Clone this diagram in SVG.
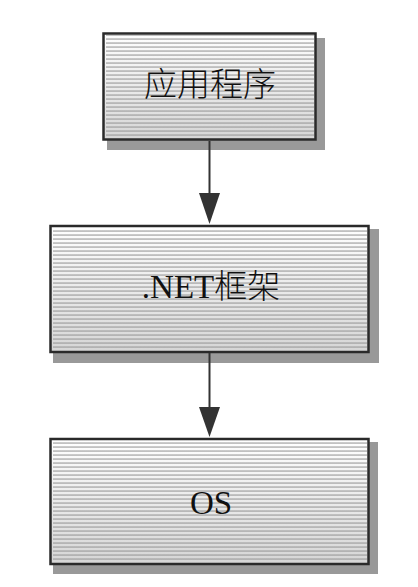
<svg xmlns="http://www.w3.org/2000/svg" width="418" height="587" viewBox="0 0 418 587">
<defs>
<linearGradient id="bg" x1="0" y1="0" x2="0" y2="1">
<stop offset="0" stop-color="#ffffff"/>
<stop offset="1" stop-color="#d6d6d6"/>
</linearGradient>
<pattern id="lines" patternUnits="userSpaceOnUse" width="8" height="4">
<rect x="0" y="2.5" width="8" height="1.1" fill="#9a9a9a"/>
</pattern>
</defs>
<style>
.shadow{fill:#999999}
.bg{fill:url(#bg)}
.ln{fill:url(#lines)}
.frame{fill:none;stroke:#2a2a2a;stroke-width:2.5}
.lbl{font-family:"Liberation Serif","Noto Sans CJK SC",serif;font-size:33px;font-weight:300;fill:#111;text-anchor:middle}
.conn{stroke:#333;stroke-width:2;fill:none}
.head{fill:#333}
</style>
<rect width="418" height="587" fill="#ffffff"/>
<g id="node-app">
<rect class="shadow" x="107" y="38" width="218" height="112"/>
<rect class="bg" x="103.5" y="33.5" width="212" height="106"/>
<rect class="ln" x="106" y="35" width="208" height="103"/>
<rect class="frame" x="103.5" y="33.5" width="212" height="106"/>
<text class="lbl" x="210" y="96">应用程序</text>
</g>
<g id="node-net">
<rect class="shadow" x="53" y="229" width="326" height="134"/>
<rect class="bg" x="50.5" y="226" width="318" height="126"/>
<rect class="ln" x="53" y="228" width="314" height="122"/>
<rect class="frame" x="50.5" y="226" width="318" height="126"/>
<text class="lbl" x="211" y="298">.NET框架</text>
</g>
<g id="node-os">
<rect class="shadow" x="53" y="442" width="325" height="132"/>
<rect class="bg" x="50.5" y="439" width="318" height="125"/>
<rect class="ln" x="53" y="441" width="314" height="121"/>
<rect class="frame" x="50.5" y="439" width="318" height="125"/>
<text class="lbl" x="211" y="514">OS</text>
</g>
<g id="connectors">
<line class="conn" x1="209.5" y1="141" x2="209.5" y2="196"/>
<polygon class="head" points="199,193 220,193 209.5,224"/>
<line class="conn" x1="209.5" y1="353" x2="209.5" y2="409"/>
<polygon class="head" points="199,407 220,407 209.5,437"/>
</g>
</svg>
